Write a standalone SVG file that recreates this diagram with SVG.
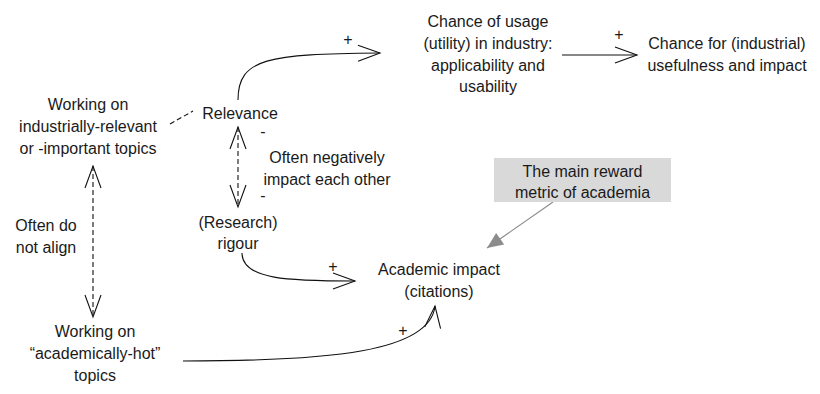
<svg xmlns="http://www.w3.org/2000/svg" width="820" height="394" viewBox="0 0 820 394">
<style>
text{font-family:"Liberation Sans",Arial,sans-serif;font-size:16px;fill:#1a1a1a;text-anchor:middle}
.ln{fill:none;stroke:#111;stroke-width:1.1}
.dash{stroke-dasharray:5 3}
.gray{fill:none;stroke:#8c8c8c;stroke-width:1.2}
</style>
<defs>
<marker id="v" markerUnits="userSpaceOnUse" markerWidth="26" markerHeight="20" refX="23" refY="9" orient="auto-start-reverse" overflow="visible">
<path d="M1,1 L23,9 L1,17" fill="none" stroke="#111" stroke-width="1.1" stroke-dasharray="none"/>
</marker>
<marker id="tri" markerUnits="userSpaceOnUse" markerWidth="18" markerHeight="14" refX="16" refY="7" orient="auto" overflow="visible">
<path d="M0,0 L16,7 L0,14 z" fill="#8c8c8c"/>
</marker>
</defs>
<rect width="820" height="394" fill="#fff"/>
<g id="connectors">
<path class="ln" d="M238,100 C238,58 268,54 380,53" marker-end="url(#v)"/>
<path class="ln" d="M562,55 L637,55" marker-end="url(#v)"/>
<path class="ln" d="M242,253 C242,280 290,281 355,281" marker-end="url(#v)"/>
<path class="ln" d="M183,361 C330,361 430,352 435,306" marker-end="url(#v)"/>
<path class="ln dash" d="M238,127 L238,207" marker-start="url(#v)" marker-end="url(#v)"/>
<path class="ln dash" d="M93,166 L93,317" marker-start="url(#v)" marker-end="url(#v)"/>
<path class="ln dash" d="M170,124 L193,111"/>
<path class="gray" d="M553,202 L487,248" marker-end="url(#tri)"/>
<text x="348" y="45">+</text>
<text x="619" y="40">+</text>
<text x="333" y="272">+</text>
<text x="403" y="336">+</text>
<text x="263" y="137">-</text>
<text x="263" y="201">-</text>
</g>
<g id="n-working-industry">
<text x="88" y="110">Working on</text>
<text x="88" y="132">industrially-relevant</text>
<text x="88" y="154">or -important topics</text>
</g>
<g id="n-relevance">
<text x="240" y="119">Relevance</text>
</g>
<g id="n-chance-usage">
<text x="488" y="27">Chance of usage</text>
<text x="488" y="49">(utility) in industry:</text>
<text x="488" y="71">applicability and</text>
<text x="488" y="92">usability</text>
</g>
<g id="n-chance-impact">
<text x="727" y="49">Chance for (industrial)</text>
<text x="727" y="71">usefulness and impact</text>
</g>
<g id="n-negative">
<text x="327" y="163">Often negatively</text>
<text x="327" y="185">impact each other</text>
</g>
<g id="n-rigour">
<text x="238" y="228">(Research)</text>
<text x="238" y="249">rigour</text>
</g>
<g id="n-align">
<text x="46" y="231">Often do</text>
<text x="46" y="253">not align</text>
</g>
<g id="n-academic-hot">
<text x="95" y="337">Working on</text>
<text x="95" y="359">“academically-hot”</text>
<text x="95" y="381">topics</text>
</g>
<g id="n-academic-impact">
<text x="439" y="275">Academic impact</text>
<text x="439" y="297">(citations)</text>
</g>
<g id="n-reward">
<rect x="494" y="158" width="177" height="44" fill="#d9d9d9"/>
<text x="582.5" y="177">The main reward</text>
<text x="582.5" y="198">metric of academia</text>
</g>
</svg>
